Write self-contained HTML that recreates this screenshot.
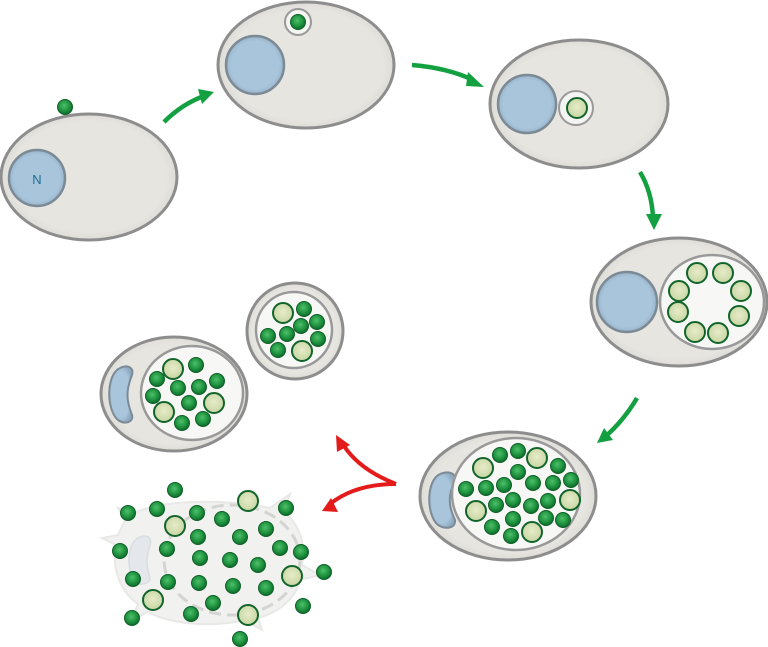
<!DOCTYPE html>
<html><head><meta charset="utf-8"><style>html,body{margin:0;padding:0;background:#fff}svg{display:block}</style></head>
<body>
<svg width="768" height="647" viewBox="0 0 768 647" xmlns="http://www.w3.org/2000/svg">
<defs>
<radialGradient id="gg" cx="0.45" cy="0.4" r="0.6"><stop offset="0" stop-color="#4fbf6a"/><stop offset="0.6" stop-color="#1f9440"/><stop offset="1" stop-color="#0d6a2a"/></radialGradient>
<radialGradient id="pg" cx="0.5" cy="0.45" r="0.6"><stop offset="0" stop-color="#e6ecc8"/><stop offset="1" stop-color="#c5d3a0"/></radialGradient>
<radialGradient id="cg" cx="0.5" cy="0.5" r="0.55"><stop offset="0.8" stop-color="#e6e5e0"/><stop offset="1" stop-color="#d6d5d0"/></radialGradient>
<radialGradient id="ng" cx="0.5" cy="0.5" r="0.55"><stop offset="0.75" stop-color="#a8c5dc"/><stop offset="1" stop-color="#8faac0"/></radialGradient>
<symbol id="g" overflow="visible"><circle cx="0" cy="0" r="7.5" fill="url(#gg)" stroke="#0f5f27" stroke-width="1"/></symbol>
<symbol id="p" overflow="visible"><circle cx="0" cy="0" r="10" fill="url(#pg)" stroke="#11652a" stroke-width="2"/></symbol>
</defs>
<g stroke="#8d8d8d" stroke-width="3">
<!-- cell1 -->
<ellipse cx="89" cy="177" rx="88" ry="63" fill="url(#cg)"/>
<circle cx="37" cy="178" r="28" fill="url(#ng)" stroke="#7c8a96" stroke-width="2.5"/>
<!-- cell2 -->
<ellipse cx="306" cy="65" rx="88" ry="63" fill="url(#cg)"/>
<circle cx="255" cy="65" r="29" fill="url(#ng)" stroke="#7c8a96" stroke-width="2.5"/>
<circle cx="298" cy="22" r="13" fill="#f4f4f2" stroke="#999" stroke-width="2"/>
<!-- cell3 -->
<ellipse cx="579" cy="104" rx="89" ry="64" fill="url(#cg)"/>
<circle cx="527" cy="104" r="29" fill="url(#ng)" stroke="#7c8a96" stroke-width="2.5"/>
<circle cx="576" cy="108" r="17" fill="#f4f4f2" stroke="#999" stroke-width="2"/>
<!-- cell4 -->
<ellipse cx="679" cy="302" rx="88" ry="64" fill="url(#cg)"/>
<circle cx="627" cy="302" r="30" fill="url(#ng)" stroke="#7c8a96" stroke-width="2.5"/>
<ellipse cx="712" cy="302" rx="52" ry="47" fill="#f7f7f6" stroke="#999" stroke-width="2.5"/>
<!-- cell5 -->
<ellipse cx="508" cy="496" rx="88" ry="64" fill="url(#cg)"/>
<path d="M440,474 C450,470 456,474 455,480 C448,495 448,505 455,520 C456,528 446,530 438,525 C426,515 426,480 440,474 Z" fill="url(#ng)" stroke="#7c8a96" stroke-width="2"/>
<ellipse cx="516" cy="494" rx="64" ry="56" fill="#f7f7f6" stroke="#999" stroke-width="2.5"/>
<!-- cell6 -->
<ellipse cx="174" cy="394" rx="73" ry="57" fill="url(#cg)"/>
<path d="M120,368 C128,364 134,368 132,375 C126,390 126,400 132,415 C134,422 125,425 118,420 C106,410 106,374 120,368 Z" fill="url(#ng)" stroke="#7c8a96" stroke-width="2"/>
<ellipse cx="192" cy="393" rx="51" ry="47" fill="#f7f7f6" stroke="#999" stroke-width="2.5"/>
<!-- cell7 -->
<circle cx="295" cy="331" r="48" fill="url(#cg)"/>
<circle cx="294" cy="330" r="38" fill="#f7f7f6" stroke="#999" stroke-width="2.5"/>
</g>
<text x="37" y="184" font-family="Liberation Sans, sans-serif" font-size="13" fill="#1b6f95" text-anchor="middle">N</text>
<!-- burst cell -->
<path d="M125,520 L118,508 L132,514 C160,500 220,498 270,508 L290,494 L284,512 C300,525 306,545 302,565 L320,575 L300,580 C296,598 280,612 258,618 L262,630 L245,620 C210,628 170,624 148,612 L132,620 L138,604 C118,590 112,565 116,545 L102,538 L118,535 Z" fill="#f1f1ef" stroke="#e8e8e6" stroke-width="2"/>
<ellipse cx="232" cy="560" rx="68" ry="55" fill="none" stroke="#d4d4d2" stroke-width="3" stroke-dasharray="12 6"/>
<path d="M140,537 C148,534 152,538 150,545 C146,558 146,566 150,578 C150,584 140,586 136,582 C126,572 126,542 140,537 Z" fill="#e4e8ec" stroke="#d8dde2" stroke-width="1.5"/>
<!-- arrows -->
<g fill="none" stroke="#12a040" stroke-width="4.5" stroke-linecap="butt">
<path d="M164,122 Q182,104 204,96"/>
<path d="M412,65 Q448,68 473,80"/>
<path d="M640,172 Q652,192 653,218"/>
<path d="M637,398 Q624,420 606,436"/>
</g>
<g fill="#12a040">
<polygon points="214,92 198,89 202,104"/>
<polygon points="484,87 468,72 466,86"/>
<polygon points="654,230 646,214 662,214"/>
<polygon points="597,443 604,428 613,440"/>
</g>
<g fill="none" stroke="#e41b1b" stroke-width="4">
<path d="M396,484 Q360,470 344,446"/>
<path d="M396,484 Q355,484 330,504"/>
</g>
<g fill="#e41b1b">
<polygon points="336,435 337,452 350,445"/>
<polygon points="322,511 338,512 331,498"/>
</g>
<!-- dots -->
<use href="#g" x="65" y="107"/>
<use href="#g" x="298" y="22"/>
<circle cx="577" cy="108" r="10" fill="url(#pg)" stroke="#11652a" stroke-width="2"/>
<use href="#p" x="697" y="273"/><use href="#p" x="723" y="273"/><use href="#p" x="679" y="291"/><use href="#p" x="741" y="291"/><use href="#p" x="678" y="312"/><use href="#p" x="739" y="316"/><use href="#p" x="695" y="332"/><use href="#p" x="718" y="333"/>
<!-- cell5 dots -->
<use href="#g" x="500" y="455"/><use href="#g" x="518" y="451"/><use href="#p" x="537" y="458"/><use href="#g" x="558" y="466"/><use href="#p" x="483" y="468"/><use href="#g" x="518" y="472"/>
<use href="#g" x="466" y="489"/><use href="#g" x="486" y="488"/><use href="#g" x="504" y="485"/><use href="#g" x="533" y="483"/><use href="#g" x="553" y="483"/><use href="#g" x="571" y="480"/>
<use href="#p" x="570" y="500"/><use href="#g" x="496" y="505"/><use href="#g" x="513" y="500"/><use href="#g" x="531" y="506"/><use href="#g" x="548" y="501"/><use href="#p" x="476" y="511"/>
<use href="#g" x="513" y="519"/><use href="#g" x="546" y="518"/><use href="#g" x="563" y="520"/><use href="#g" x="492" y="527"/><use href="#g" x="511" y="536"/><use href="#p" x="532" y="532"/>
<!-- cell6 dots -->
<use href="#p" x="173" y="369"/><use href="#g" x="196" y="365"/><use href="#g" x="157" y="379"/><use href="#g" x="178" y="388"/><use href="#g" x="199" y="387"/><use href="#g" x="217" y="381"/><use href="#g" x="153" y="396"/><use href="#g" x="189" y="403"/><use href="#p" x="214" y="403"/><use href="#p" x="164" y="412"/><use href="#g" x="182" y="423"/><use href="#g" x="203" y="419"/>
<!-- cell7 dots -->
<use href="#p" x="283" y="313"/><use href="#g" x="304" y="309"/><use href="#g" x="317" y="322"/><use href="#g" x="301" y="326"/><use href="#g" x="287" y="334"/><use href="#g" x="268" y="336"/><use href="#g" x="318" y="339"/><use href="#g" x="278" y="350"/><use href="#p" x="302" y="351"/>
<!-- burst dots -->
<use href="#g" x="175" y="490"/><use href="#g" x="128" y="513"/><use href="#g" x="157" y="509"/><use href="#p" x="248" y="501"/><use href="#g" x="286" y="508"/><use href="#p" x="175" y="526"/><use href="#g" x="197" y="513"/><use href="#g" x="222" y="519"/><use href="#g" x="266" y="529"/><use href="#g" x="198" y="537"/><use href="#g" x="240" y="537"/>
<use href="#g" x="120" y="551"/><use href="#g" x="167" y="549"/><use href="#g" x="280" y="548"/><use href="#g" x="301" y="552"/><use href="#g" x="200" y="558"/><use href="#g" x="230" y="560"/><use href="#g" x="258" y="565"/><use href="#p" x="292" y="576"/><use href="#g" x="324" y="572"/>
<use href="#g" x="133" y="579"/><use href="#g" x="168" y="582"/><use href="#g" x="199" y="583"/><use href="#g" x="233" y="586"/><use href="#g" x="266" y="588"/><use href="#p" x="153" y="600"/><use href="#g" x="213" y="603"/><use href="#g" x="303" y="606"/><use href="#g" x="132" y="618"/><use href="#g" x="191" y="614"/><use href="#p" x="248" y="615"/><use href="#g" x="240" y="639"/>
</svg>
</body></html>
